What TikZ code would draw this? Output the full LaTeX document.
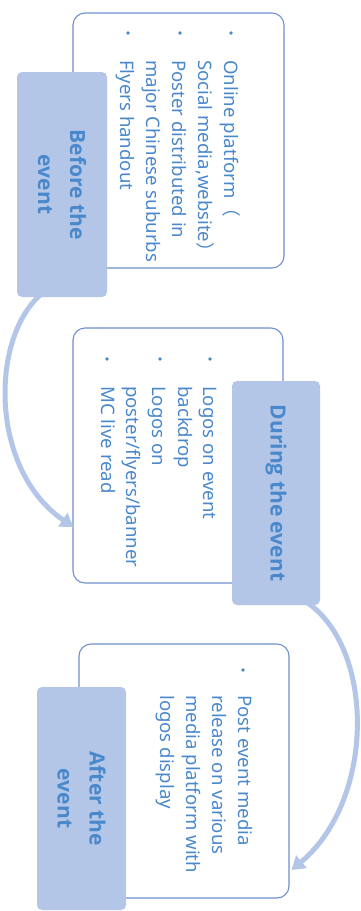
\documentclass[tikz,border=0pt]{standalone}
\usepackage{fontspec}
\setmainfont{Noto Sans}
\newfontfamily\labfont{Open Sans}
\newfontfamily\cjk{Noto Sans CJK SC}
\usetikzlibrary{arrows.meta,calc}
\definecolor{labfill}{HTML}{B4C6E7}
\definecolor{txtblue}{HTML}{4A88CC}
\definecolor{boxline}{HTML}{6E90D2}
\definecolor{arrcol}{HTML}{B4C6E7}
\tikzset{
  infobox/.style={draw=boxline, line width=1.1pt, fill=white, rounded corners=12pt, inner sep=0},
  stagelabel/.style={fill=labfill, rounded corners=5pt, inner sep=0},
  stagetext/.style={rotate=-90, align=center, text=txtblue, font=\labfont\fontsize{21}{32}\selectfont\bfseries, inner sep=0},
  itemtxt/.style={rotate=-90, anchor=base west, text=txtblue, font=\fontsize{18.6}{26}\selectfont, inner sep=0},
  bulletdot/.style={circle, fill=txtblue, inner sep=0, minimum size=3.6pt},
  flowarrow/.style={draw=arrcol, line width=5pt, -{Triangle[width=16pt,length=13pt]}}
}
\begin{document}
\begin{tikzpicture}[x=1pt,y=-1pt]
\useasboundingbox[fill=white] (0,0) rectangle (360,911);
% content boxes
\node[infobox, minimum width=211pt, minimum height=255pt] (B1) at (178.5,140.5) {};
\node[infobox, minimum width=210pt, minimum height=255pt] (B2) at (178,455.5) {};
\node[infobox, minimum width=210pt, minimum height=254pt] (B3) at (184,771) {};
% box 1 text
\node[bulletdot] (d11) at (231,33) {};
\node[bulletdot] (d12) at (180,33) {};
\node[bulletdot] (d13) at (128,33) {};
\node[itemtxt] (t11) at (224,60) {Online platform{\cjk （}};
\node[itemtxt] (t12) at (198,60) {Social media,website{\cjk ）}};
\node[itemtxt] (t13) at (172,60) {Poster distributed in};
\node[itemtxt] (t14) at (146,60) {major Chinese suburbs};
\node[itemtxt] (t15) at (120,60) {Flyers handout};
% box 2 text
\node[bulletdot] (d21) at (210,359) {};
\node[bulletdot] (d22) at (160,359) {};
\node[bulletdot] (d23) at (107,359) {};
\node[itemtxt] (t21) at (203,386) {Logos on event};
\node[itemtxt] (t22) at (178,386) {backdrop};
\node[itemtxt] (t23) at (152,386) {Logos on};
\node[itemtxt] (t24) at (126,386) {poster/flyers/banner};
\node[itemtxt] (t25) at (101,386) {MC live read};
% box 3 text
\node[bulletdot] (d31) at (243,670) {};
\node[itemtxt] (t31) at (238,695) {Post event media};
\node[itemtxt] (t32) at (212,695) {release on various};
\node[itemtxt] (t33) at (186,695) {media platform with};
\node[itemtxt] (t34) at (160,695) {logos display};
% stage label positions
\path (62,184.5) node[minimum width=90pt, minimum height=225pt, inner sep=0] (L1) {};
\path (276,493) node[minimum width=88pt, minimum height=224pt, inner sep=0] (L2) {};
\path (81.5,798.5) node[minimum width=89pt, minimum height=223pt, inner sep=0] (L3) {};
% arrows
\draw[flowarrow] ($(L1.south)+(-22,-2)$) .. controls (-10,340) and (-10,470) .. ($(B2.west)+(1,71.5)$);
\draw[flowarrow] ($(L2.south)+(32,-2)$) .. controls (375,650) and (375,800) .. ($(B3.east)+(2,99)$);
% stage labels
\node[stagelabel, minimum width=90pt, minimum height=225pt] (F1) at (L1) {};
\node[stagelabel, minimum width=88pt, minimum height=224pt] (F2) at (L2) {};
\node[stagelabel, minimum width=89pt, minimum height=223pt] (F3) at (L3) {};
\node[stagetext] (s1) at (F1) {Before the\\event};
\node[stagetext] (s2) at (F2) {During the event};
\node[stagetext] (s3) at (F3) {After the\\event};
\end{tikzpicture}
\end{document}
